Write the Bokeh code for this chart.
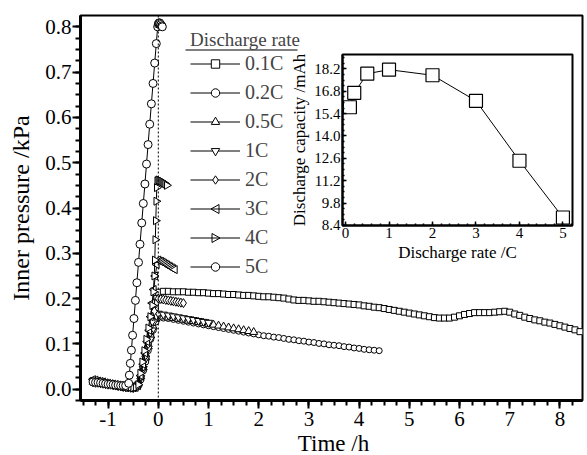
from bokeh.plotting import figure
from bokeh.layouts import column
from bokeh.models import (Legend, LegendItem, Span, SingleIntervalTicker, Label,
                          NumeralTickFormatter, BoxAnnotation, PolyAnnotation)
from bokeh.embed import file_html
from bokeh.resources import INLINE

FONT = "Liberation Serif"

# ---------------- data ----------------
LABELS = ["0.1C", "0.2C", "0.5C", "1C", "2C", "3C", "4C", "5C"]

T01 = [-1.30, -1.25, -1.20, -1.15, -1.10, -1.05, -1.00, -0.95, -0.90, -0.85, -0.80, -0.75, -0.70, -0.65, -0.60, -0.55, -0.50, -0.45,
       -0.40, -0.35, -0.30, -0.25, -0.20, -0.15, -0.10, -0.06, -0.03, 0.00,
       0.1, 0.2, 0.3, 0.4, 0.5, 0.6, 0.7, 0.8, 0.9, 1.0, 1.1, 1.2, 1.3, 1.4, 1.5, 1.6, 1.7, 1.8, 1.9, 2.0,
       2.1, 2.2, 2.3, 2.4, 2.5, 2.6, 2.7, 2.8, 2.9, 3.0, 3.1, 3.2, 3.3, 3.4, 3.5, 3.6, 3.7, 3.8, 3.9, 4.0,
       4.1, 4.2, 4.3, 4.4, 4.5, 4.6, 4.7, 4.8, 4.9, 5.0, 5.1, 5.2, 5.3, 5.4, 5.5, 5.6, 5.7, 5.8, 5.9, 6.0,
       6.1, 6.2, 6.3, 6.4, 6.5, 6.6, 6.7, 6.8, 6.9, 7.0, 7.1, 7.2, 7.3, 7.4, 7.5, 7.6, 7.7, 7.8, 7.9, 8.0,
       8.1, 8.2, 8.3, 8.4]
P01 = [0.018, 0.017, 0.016, 0.015, 0.014, 0.013, 0.012, 0.011, 0.010, 0.009, 0.008, 0.007, 0.006, 0.005, 0.005, 0.004, 0.004, 0.005,
       0.010, 0.025, 0.045, 0.070, 0.095, 0.125, 0.155, 0.180, 0.200, 0.214,
       0.216, 0.216, 0.215, 0.215, 0.215, 0.214, 0.214, 0.213, 0.213, 0.212,
       0.211, 0.211, 0.210, 0.209, 0.209, 0.208, 0.207, 0.207, 0.206, 0.205,
       0.204, 0.204, 0.203, 0.202, 0.201, 0.199, 0.197, 0.196, 0.196, 0.195,
       0.194, 0.194, 0.193, 0.192, 0.191, 0.190, 0.189, 0.188, 0.187, 0.186,
       0.184, 0.183, 0.181, 0.180, 0.178, 0.176, 0.174, 0.172, 0.170, 0.168,
       0.166, 0.164, 0.162, 0.160, 0.158, 0.157, 0.157, 0.157, 0.159, 0.162,
       0.165, 0.167, 0.169, 0.169, 0.169, 0.169, 0.170, 0.171, 0.172, 0.170,
       0.166, 0.163, 0.159, 0.156, 0.153, 0.151, 0.148, 0.146, 0.143, 0.140,
       0.137, 0.134, 0.131, 0.127]

T02 = [-1.30, -1.25, -1.20, -1.15, -1.10, -1.05, -1.00, -0.95, -0.90, -0.85, -0.80, -0.75, -0.70, -0.65, -0.60, -0.55, -0.50, -0.45,
       -0.40, -0.35, -0.30, -0.25, -0.20, -0.15, -0.10, -0.05, 0.00,
       0.1, 0.2, 0.3, 0.4, 0.5, 0.6, 0.7, 0.8, 0.9, 1.0, 1.1, 1.2, 1.3, 1.4, 1.5, 1.6, 1.7, 1.8, 1.9, 2.0,
       2.1, 2.2, 2.3, 2.4, 2.5, 2.6, 2.7, 2.8, 2.9, 3.0, 3.1, 3.2, 3.3, 3.4, 3.5, 3.6, 3.7, 3.8, 3.9, 4.0,
       4.1, 4.2, 4.3, 4.4]
P02 = [0.020, 0.019, 0.018, 0.016, 0.015, 0.014, 0.012, 0.011, 0.010, 0.009, 0.008, 0.007, 0.006, 0.005, 0.004, 0.004, 0.003, 0.004,
       0.008, 0.020, 0.040, 0.060, 0.085, 0.110, 0.130, 0.148, 0.158,
       0.157, 0.156, 0.154, 0.152, 0.150, 0.148, 0.146, 0.144, 0.142, 0.140,
       0.138, 0.136, 0.134, 0.132, 0.130, 0.128, 0.126, 0.124, 0.122, 0.120,
       0.118, 0.117, 0.115, 0.114, 0.112, 0.110, 0.109, 0.107, 0.106, 0.104,
       0.103, 0.101, 0.100, 0.098, 0.097, 0.096, 0.094, 0.093, 0.091, 0.090,
       0.088, 0.087, 0.086, 0.085]

T05 = [-1.30, -1.25, -1.20, -1.15, -1.10, -1.05, -1.00, -0.95, -0.90, -0.85, -0.80, -0.75, -0.70, -0.65, -0.60, -0.55, -0.50, -0.45,
       -0.40, -0.35, -0.30, -0.25, -0.20, -0.15, -0.10, -0.05, 0.00,
       0.1, 0.2, 0.3, 0.4, 0.5, 0.6, 0.7, 0.8, 0.9, 1.0, 1.1, 1.2, 1.3, 1.4, 1.5, 1.6, 1.7, 1.8, 1.9]
P05 = [0.016, 0.015, 0.015, 0.014, 0.013, 0.012, 0.011, 0.010, 0.009, 0.008, 0.008, 0.007, 0.006, 0.005, 0.005, 0.004, 0.004, 0.005,
       0.012, 0.028, 0.048, 0.070, 0.094, 0.118, 0.138, 0.155, 0.162,
       0.160, 0.158, 0.157, 0.155, 0.153, 0.151, 0.150, 0.148, 0.146, 0.144,
       0.142, 0.140, 0.138, 0.136, 0.134, 0.132, 0.130, 0.128, 0.126]

T1 = [-1.30, -1.25, -1.20, -1.15, -1.10, -1.05, -1.00, -0.95, -0.90, -0.85, -0.80, -0.75, -0.70, -0.65, -0.60, -0.55, -0.50, -0.45,
      -0.40, -0.35, -0.30, -0.25, -0.20, -0.16, -0.12, -0.08, -0.04, 0.00,
      0.1, 0.2, 0.3, 0.4, 0.5, 0.6, 0.7, 0.8, 0.9, 1.0]
P1 = [0.019, 0.018, 0.017, 0.016, 0.015, 0.013, 0.012, 0.011, 0.010, 0.009, 0.008, 0.007, 0.006, 0.005, 0.004, 0.004, 0.003, 0.004,
      0.010, 0.025, 0.045, 0.068, 0.090, 0.110, 0.130, 0.150, 0.162, 0.167,
      0.165, 0.163, 0.161, 0.159, 0.157, 0.155, 0.153, 0.151, 0.149, 0.147]

T2 = [-1.30, -1.25, -1.20, -1.15, -1.10, -1.05, -1.00, -0.95, -0.90, -0.85, -0.80, -0.75, -0.70, -0.65, -0.60, -0.55, -0.50, -0.45,
      -0.40, -0.35, -0.30, -0.25, -0.20, -0.16, -0.12, -0.08, -0.04, 0.00,
      0.05, 0.10, 0.15, 0.20, 0.25, 0.30, 0.35, 0.40, 0.45, 0.50]
P2 = [0.015, 0.014, 0.014, 0.013, 0.012, 0.011, 0.010, 0.010, 0.009, 0.008, 0.007, 0.006, 0.005, 0.005, 0.004, 0.003, 0.003, 0.004,
      0.010, 0.028, 0.050, 0.075, 0.100, 0.125, 0.150, 0.172, 0.190, 0.200,
      0.199, 0.198, 0.197, 0.196, 0.195, 0.194, 0.193, 0.192, 0.191, 0.190]

T3 = [-1.30, -1.25, -1.20, -1.15, -1.10, -1.05, -1.00, -0.95, -0.90, -0.85, -0.80, -0.75, -0.70, -0.65, -0.60, -0.55, -0.50, -0.45,
      -0.40, -0.35, -0.30, -0.26, -0.22, -0.18, -0.15, -0.12, -0.09, -0.06, -0.03, 0.00,
      0.03, 0.06, 0.09, 0.12, 0.15, 0.18, 0.21, 0.24, 0.27, 0.30, 0.33]
P3 = [0.021, 0.020, 0.018, 0.017, 0.016, 0.014, 0.013, 0.012, 0.011, 0.010, 0.009, 0.008, 0.007, 0.006, 0.005, 0.004, 0.004, 0.004,
      0.008, 0.030, 0.055, 0.080, 0.105, 0.130, 0.160, 0.190, 0.220, 0.250, 0.275, 0.285,
      0.283, 0.282, 0.280, 0.278, 0.276, 0.274, 0.272, 0.270, 0.268, 0.266, 0.264]

T4 = [-1.30, -1.25, -1.20, -1.15, -1.10, -1.05, -1.00, -0.95, -0.90, -0.85, -0.80, -0.75, -0.70, -0.65, -0.60, -0.55, -0.50, -0.45,
      -0.40, -0.36, -0.32, -0.28, -0.24, -0.20, -0.16, -0.12, -0.10, -0.08, -0.07, -0.06, -0.05, -0.04, -0.03, -0.02,
      0.00, 0.02, 0.04, 0.06, 0.08, 0.10, 0.12, 0.14, 0.17]
P4 = [0.017, 0.016, 0.015, 0.015, 0.014, 0.013, 0.012, 0.011, 0.010, 0.009, 0.008, 0.007, 0.006, 0.005, 0.004, 0.004, 0.003, 0.004,
      0.010, 0.035, 0.060, 0.085, 0.110, 0.135, 0.160, 0.185, 0.215, 0.250, 0.285, 0.330, 0.372, 0.415, 0.445, 0.460,
      0.462, 0.461, 0.460, 0.459, 0.458, 0.456, 0.455, 0.453, 0.450]

T5 = [-1.30, -1.25, -1.20, -1.15, -1.10, -1.05, -1.00, -0.95, -0.90, -0.85, -0.80, -0.75, -0.70, -0.65,
      -0.590, -0.577, -0.558, -0.536, -0.512, -0.485, -0.456, -0.427, -0.394, -0.365, -0.330,
      -0.299, -0.267, -0.235, -0.204, -0.171, -0.138, -0.105, -0.072, -0.040, -0.013,
      0.00, 0.01, 0.02, 0.03, 0.05, 0.07, 0.08]
P5 = [0.016, 0.015, 0.015, 0.014, 0.013, 0.012, 0.011, 0.011, 0.010, 0.009, 0.009, 0.008, 0.008, 0.008,
      0.013, 0.031, 0.057, 0.086, 0.119, 0.156, 0.196, 0.235, 0.280, 0.320, 0.367,
      0.410, 0.453, 0.497, 0.540, 0.585, 0.630, 0.675, 0.720, 0.763, 0.800,
      0.806, 0.808, 0.809, 0.808, 0.805, 0.802, 0.800]

# inset: discharge capacity vs rate
RATE = [0.1, 0.2, 0.5, 1, 2, 3, 4, 5]
CAPACITY = [15.8, 16.7, 17.9, 18.15, 17.8, 16.2, 12.45, 8.9]

SERIES = [(T01, P01), (T02, P02), (T05, P05), (T1, P1), (T2, P2), (T3, P3), (T4, P4), (T5, P5)]

# ---------------- main figure ----------------
P_HEIGHT = 455
p = figure(width=587, height=P_HEIGHT, x_range=(-1.55, 8.45), y_range=(-0.025, 0.825),
           output_backend="svg", toolbar_location=None,
           min_border_left=80, min_border_right=2, min_border_top=15, min_border_bottom=55)
p.grid.visible = False
p.outline_line_color = "black"
p.outline_line_width = 2
p.background_fill_color = "white"
p.border_fill_color = "white"

p.xaxis.ticker = SingleIntervalTicker(interval=1, num_minor_ticks=4)
p.xaxis.formatter = NumeralTickFormatter(format="0")
p.yaxis.ticker = SingleIntervalTicker(interval=0.1, num_minor_ticks=4)
p.yaxis.formatter = NumeralTickFormatter(format="0.0")
p.yaxis.axis_label = "Inner pressure /kPa"
for ax in (p.xaxis[0], p.yaxis[0]):
    ax.axis_line_width = 3
    ax.axis_line_color = "black"
    ax.major_tick_line_width = 2
    ax.minor_tick_line_width = 2
    ax.major_tick_line_color = "black"
    ax.minor_tick_line_color = "black"
    ax.major_tick_in = 0
    ax.major_tick_out = 8
    ax.minor_tick_in = 0
    ax.minor_tick_out = 5
    ax.major_label_text_font = FONT
    ax.major_label_text_font_size = "21px"
    ax.major_label_text_color = "black"
    ax.axis_label_text_font = FONT
    ax.axis_label_text_font_size = "24px"
    ax.axis_label_text_font_style = "normal"
    ax.axis_label_text_color = "black"
    ax.major_label_standoff = 1
p.yaxis[0].axis_label_standoff = 8
p.xaxis[0].major_label_standoff = 3

p.add_layout(Span(location=0, dimension="height", line_color="black",
                  line_width=1, line_dash="2 2"))

MARKERS = [("square", 6, 0.0), ("circle", 6, 0.0), ("triangle", 8, 0.0),
           ("inverted_triangle", 8, 0.0), ("diamond", 9, 0.0),
           ("triangle", 8, 1.5708), ("triangle", 8, -1.5708), ("circle", 8, 0.0)]

items = []
for i, ((t, pr), (mk, sz, ang), lab) in enumerate(zip(SERIES, MARKERS, LABELS)):
    lr = p.line(t, pr, line_color="black", line_width=1)
    sr = p.scatter(t, pr, marker=mk, size=sz, angle=ang, fill_color="white",
                   line_color="black", line_width=1)
    # legend glyphs are never rotated in Bokeh: rotated triangles drawn separately
    rends = [lr] if ang != 0.0 else [lr, sr]
    items.append(LegendItem(label=lab, renderers=rends))

LEG_X, LEG_Y = 110, 122          # legend offset from frame bottom-left, px
ROW0, PITCH = 63.5, 29           # canvas y of first legend row, row pitch
legend = Legend(items=items, location=(LEG_X, LEG_Y), title="Discharge rate",
                background_fill_alpha=0, border_line_alpha=0,
                padding=0, margin=0, spacing=6, glyph_width=50, glyph_height=21,
                label_height=21, label_standoff=5,
                label_text_font=FONT, label_text_font_size="20px",
                title_text_font=FONT, title_text_font_size="19px",
                title_text_font_style="normal", title_standoff=1)
p.add_layout(legend)

# rotated-triangle legend symbols (3C: left, 4C: right)
cx = 80 + LEG_X + 25
for row, direction in ((5, -1), (6, 1)):
    cy = ROW0 + row * PITCH
    xs = [cx + 4.5 * direction, cx - 3.5 * direction, cx - 3.5 * direction]
    ys = [cy, cy - 4.5, cy + 4.5]
    p.add_layout(PolyAnnotation(xs=xs, ys=ys, xs_units="canvas", ys_units="canvas",
                                fill_color="white", fill_alpha=1,
                                line_color="black", line_alpha=1, line_width=1))

# underline of the legend title
p.add_layout(BoxAnnotation(left=185, right=297, top=49, bottom=50,
                           left_units="canvas", right_units="canvas",
                           top_units="canvas", bottom_units="canvas",
                           fill_color="black", fill_alpha=1, line_alpha=0))

# ---------------- x-axis title (transparent overlay strip below tick labels) ----
XT_TOP, XT_H, XT_X = 427, 28, 253
r = figure(width=587, height=XT_H, x_range=(0, 1), y_range=(0, 1),
           output_backend="svg", toolbar_location=None,
           x_axis_location=None, y_axis_location=None, min_border=0)
r.grid.visible = False
r.outline_line_color = None
r.background_fill_alpha = 0
r.border_fill_alpha = 0
r.margin = (XT_TOP - P_HEIGHT, 0, 0, 0)
r.add_layout(Label(x=XT_X, y=XT_H / 2 - 2, x_units="screen", y_units="screen",
                   text="Time /h", text_font=FONT, text_font_size="23px",
                   text_color="black", text_align="center", text_baseline="middle"))

# ---------------- inset ----------------
q = figure(width=315, height=227, x_range=(-0.07, 5.22), y_range=(8.399, 19.1),
           output_backend="svg", toolbar_location=None,
           min_border_left=58, min_border_right=5, min_border_top=16, min_border_bottom=40)
q.margin = (38 - (XT_TOP + XT_H), 0, 0, 262)
q.grid.visible = False
q.background_fill_alpha = 0
q.border_fill_alpha = 0
q.outline_line_color = "black"
q.outline_line_width = 2
q.xaxis.ticker = SingleIntervalTicker(interval=1, num_minor_ticks=5)
q.xaxis.formatter = NumeralTickFormatter(format="0")
q.yaxis.ticker = SingleIntervalTicker(interval=1.4, num_minor_ticks=4)
q.yaxis.formatter = NumeralTickFormatter(format="0.0")
q.xaxis.axis_label = "Discharge rate /C"
q.yaxis.axis_label = "Discharge capacity /mAh"
for ax in (q.xaxis[0], q.yaxis[0]):
    ax.axis_line_width = 2
    ax.axis_line_color = "black"
    ax.major_tick_line_width = 1.5
    ax.minor_tick_line_width = 1.5
    ax.major_tick_in = 4
    ax.major_tick_out = 0
    ax.minor_tick_in = 2
    ax.minor_tick_out = 0
    ax.major_label_text_font = FONT
    ax.major_label_text_font_size = "15px"
    ax.major_label_text_color = "black"
    ax.axis_label_text_font = FONT
    ax.axis_label_text_font_size = "17px"
    ax.axis_label_text_font_style = "normal"
    ax.axis_label_text_color = "black"
    ax.major_label_standoff = 2
    ax.axis_label_standoff = 2

q.line(RATE, CAPACITY, line_color="black", line_width=1)
q.scatter(RATE, CAPACITY, marker="square", size=13, fill_color="white",
          line_color="black", line_width=1.2)

layout = column(p, r, q)
open("out.html", "w").write(file_html(layout, INLINE))
